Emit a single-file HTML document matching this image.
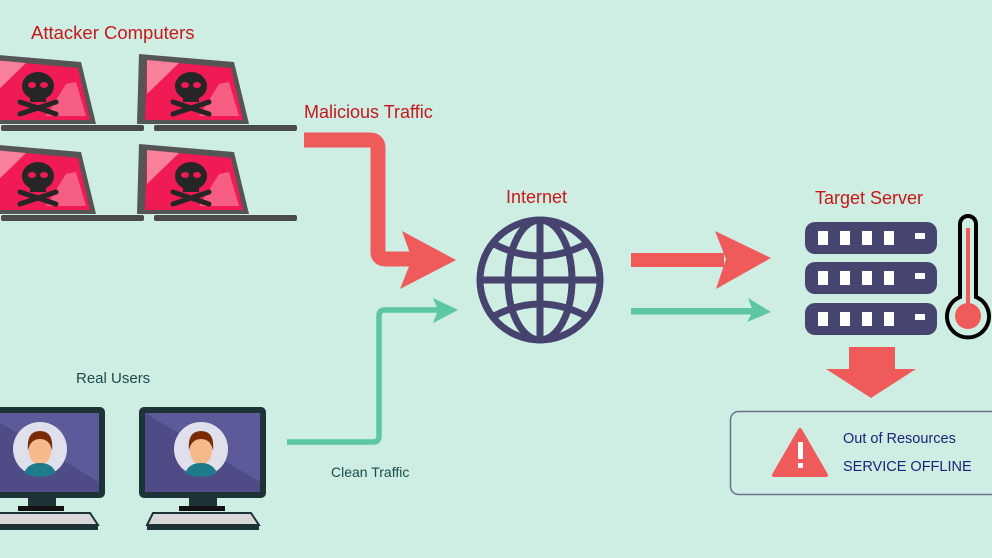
<!DOCTYPE html>
<html><head><meta charset="utf-8"><style>
html,body{margin:0;padding:0;background:#cfeee3;}
svg{display:block;}
text{font-family:"Liberation Sans",sans-serif;}
</style></head><body>
<svg width="992" height="558" viewBox="0 0 992 558" xmlns="http://www.w3.org/2000/svg">
<rect width="992" height="558" fill="#cfeee3"/>
<defs>
<g id="laptop">
  <polygon points="0,0 95,8 110,70 -2,70" fill="#555"/>
  <polygon points="8,6 92,14 104,66 6,66" fill="#f01a55"/>
  <polygon points="8,6 40,9 8,40" fill="#fa9aab" opacity="0.8"/>
  <polygon points="80,30 90,28 100,62 60,62" fill="#fa8aa0" opacity="0.6"/>
  <ellipse cx="52" cy="32" rx="16" ry="14" fill="#262626"/>
  <rect x="44" y="40" width="16" height="8" fill="#262626"/>
  <ellipse cx="46" cy="31" rx="4" ry="3" fill="#f01a55"/>
  <ellipse cx="58" cy="31" rx="4" ry="3" fill="#f01a55"/>
  <line x1="34" y1="48" x2="70" y2="60" stroke="#262626" stroke-width="5" stroke-linecap="round"/>
  <line x1="34" y1="60" x2="70" y2="48" stroke="#262626" stroke-width="5" stroke-linecap="round"/>
  <rect x="15" y="71" width="143" height="6" rx="2" fill="#4a4a4a"/>
</g>
<g id="monitor">
  <rect x="0" y="0" width="127" height="91" rx="5" fill="#1d3338"/>
  <rect x="6" y="6" width="115" height="79" fill="#4e4b86"/>
  <polygon points="6,6 121,6 121,75" fill="#5d5a9a"/>
  <circle cx="62" cy="42" r="27" fill="#dfe0ec"/>
  <ellipse cx="62" cy="44" rx="11" ry="14" fill="#f6b98c"/>
  <path d="M50,44 Q48,24 62,24 Q76,24 74,44 Q72,32 62,32 Q52,32 50,44Z" fill="#7a2a05"/>
  <path d="M46,66 Q50,56 62,56 Q74,56 78,66 Q70,70 62,70 Q54,70 46,66Z" fill="#1f7a8c"/>
  <rect x="50" y="91" width="28" height="10" fill="#1d3338"/>
  <rect x="40" y="99" width="46" height="5" fill="#111"/>
  <polygon points="14,106 112,106 120,118 8,118" fill="#d8d8d8" stroke="#1d3338" stroke-width="2"/>
  <rect x="8" y="118" width="112" height="5" fill="#1d3338"/>
</g>
</defs>

<text x="31" y="39" font-size="18.5" fill="#c8161b">Attacker Computers</text>
<use href="#laptop" x="-14" y="54"/>
<use href="#laptop" x="139" y="54"/>
<use href="#laptop" x="-14" y="144"/>
<use href="#laptop" x="139" y="144"/>

<text x="76" y="383" font-size="15" fill="#1b4b4a">Real Users</text>
<use href="#monitor" x="-22" y="407"/>
<use href="#monitor" x="139" y="407"/>

<text x="304" y="118" font-size="18" fill="#c8161b">Malicious Traffic</text>
<text x="331" y="477" font-size="14" fill="#1b4b4a">Clean Traffic</text>
<text x="506" y="203" font-size="18" fill="#c8161b">Internet</text>
<text x="815" y="204" font-size="18" fill="#c8161b">Target Server</text>

<path d="M304,140 H370 Q378,140 378,148 V252 Q378,259 386,259 H412" fill="none" stroke="#ef5a5a" stroke-width="15"/>
<polygon points="456,260 402,231 412,259 400,289" fill="#ef5a5a"/>
<path d="M287,442 H373 Q379,442 379,436 V316 Q379,310 385,310 H445" fill="none" stroke="#5cc7a2" stroke-width="5.5"/>
<polygon points="458,310 433,298 438,310 433,323" fill="#5cc7a2"/>

<g fill="none" stroke="#46436f" stroke-width="7">
  <circle cx="540" cy="280" r="60"/>
  <line x1="540" y1="220" x2="540" y2="340"/>
  <line x1="480" y1="280" x2="600" y2="280"/>
  <ellipse cx="540" cy="280" rx="32" ry="60"/>
  <path d="M494,244 Q540,268 586,244"/>
  <path d="M494,316 Q540,292 586,316"/>
</g>

<polygon points="631,253 724,253 724,267 631,267" fill="#ef5a5a"/>
<polygon points="771,258 715,231 726,259 716,289" fill="#ef5a5a"/>
<rect x="631" y="308" width="125" height="6.5" fill="#5cc7a2"/>
<polygon points="771,312 748,298 753,311 747,322" fill="#5cc7a2"/>

<g fill="#46456f">
  <rect x="805" y="222" width="132" height="32" rx="10"/>
  <rect x="805" y="262" width="132" height="32" rx="10"/>
  <rect x="805" y="303" width="132" height="32" rx="10"/>
</g>
<g fill="#fff">
  <rect x="818" y="231" width="10" height="14"/><rect x="840" y="231" width="10" height="14"/><rect x="862" y="231" width="10" height="14"/><rect x="884" y="231" width="10" height="14"/><rect x="915" y="233" width="10" height="6"/>
  <rect x="818" y="271" width="10" height="14"/><rect x="840" y="271" width="10" height="14"/><rect x="862" y="271" width="10" height="14"/><rect x="884" y="271" width="10" height="14"/><rect x="915" y="273" width="10" height="6"/>
  <rect x="818" y="312" width="10" height="14"/><rect x="840" y="312" width="10" height="14"/><rect x="862" y="312" width="10" height="14"/><rect x="884" y="312" width="10" height="14"/><rect x="915" y="314" width="10" height="6"/>
</g>
<path d="M960,297 V224 A8,8 0 0 1 976,224 V297 A21,21 0 1 1 960,297Z" fill="#cfeee3" stroke="#000" stroke-width="4"/>
<line x1="968" y1="228" x2="968" y2="305" stroke="#ef5a5a" stroke-width="4"/>
<circle cx="968" cy="316" r="13" fill="#ef5a5a"/>

<rect x="849" y="347" width="46" height="24" fill="#ef5a5a"/>
<polygon points="826,369 916,369 871,398" fill="#ef5a5a"/>

<rect x="730.5" y="411.5" width="280" height="83" rx="8" fill="#cfeee3" stroke="#6a6f90" stroke-width="1.5"/>
<polygon points="800,430 826,475 774,475" fill="#ef5a5a" stroke="#ef5a5a" stroke-width="4" stroke-linejoin="round"/>
<rect x="798" y="442" width="5" height="17" fill="#fff"/>
<rect x="798" y="463" width="5" height="5" fill="#fff"/>
<text x="843" y="443" font-size="14.5" fill="#1d2377">Out of Resources</text>
<text x="843" y="471" font-size="14.5" fill="#1d2377">SERVICE OFFLINE</text>
</svg>
</body></html>
